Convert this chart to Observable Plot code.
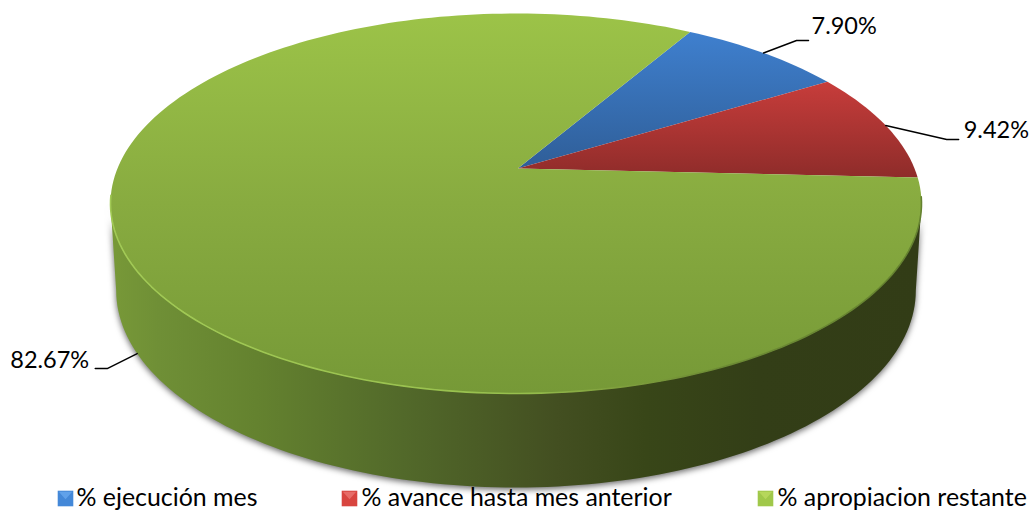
<!DOCTYPE html>
<html><head><meta charset="utf-8">
<style>html,body{margin:0;padding:0;background:#fff;overflow:hidden}svg{display:block}</style>
<script src="https://cdn.jsdelivr.net/npm/d3@7"></script>
<script src="https://cdn.jsdelivr.net/npm/@observablehq/plot@0.6"></script>
</head><body><div id="chart"></div>
<script>
const categories = ["% ejecución mes", "% avance hasta mes anterior", "% apropiacion restante"];
const values = [7.90, 9.42, 82.67];
const titleParts = ["programa (", ")"];

// Layout / styling (separate from data)
const FONT = "Lato, Carlito, Calibri, sans-serif";
const startAngle = 30.4;
const apexShift = -0.184, apexDx = 0.0044;
const bottomRim = {cy: 0.458, rx: 0.986, ry: 1.037};
const topFills = ["url(#gBlue)", "url(#gRed)", "url(#gGreen)"];
const iconFills = ["url(#iBlue)", "url(#iRed)", "url(#iGreen)"];
const iconHi = ["#6aaaf0", "#ec7a75", "#bddc62"];
const legendX = [65, 349, 765];
const legendTextX = [76, 361, 777];
const leaderOffsets = [[33,-12.5,45,-12.5],[61,14,73,14],[-30,15,-42,15]];
const labelSide = ["start","start","end"];
const labelGap = [3,5,-6];
const labelDy = [-14,-9,-8];
const useBottom = [false,false,true];

const total = d3.sum(values);
const rad = d => d * Math.PI / 180;
// perspective map: pie-angle on the rim (or inside) onto the unit ellipse
function project(deg, r = 1) {
  const u = r * Math.sin(rad(deg)), v = -r * Math.cos(rad(deg)), a = apexShift;
  const den = 1 + a * v, s = Math.sqrt(1 - a * a);
  const X = u * s / den, Y = (v + a) / den;
  return {X: X + apexDx * (1 - X * X - Y * Y), Y};
}
let acc = startAngle;
const slices = values.map((v, i) => {
  const a0 = acc, a1 = acc + v / total * 360;
  acc = a1;
  return {category: categories[i], value: v, a0, a1, mid: (a0 + a1) / 2};
});
function slicePath(s) {
  const n = Math.ceil((s.a1 - s.a0) / 1.5);
  const pts = [project(0, 0)];
  for (let k = 0; k <= n; k++) pts.push(project(s.a0 + (s.a1 - s.a0) * k / n));
  pts.push(project(0, 0));
  return pts;
}
const rimHalf = d3.range(-2, 184, 1.5).map(t => ({X: Math.cos(rad(t)), Y: Math.sin(rad(t))}));
const wall = [
  ...d3.range(0, 181, 1.5).map(t => ({X: bottomRim.rx * Math.cos(rad(t)), Y: bottomRim.cy + bottomRim.ry * Math.sin(rad(t))})),
  {X: -1, Y: 0},
  ...d3.range(180, -1, -1.5).map(t => ({X: Math.cos(rad(t)), Y: Math.sin(rad(t))})),
  {X: 1, Y: 0}
];
const PX = 405.5, PY = 190;
const leaders = slices.map((s, i) => {
  const p = project(s.mid);
  const A = useBottom[i] ? {X: p.X * bottomRim.rx, Y: bottomRim.cy + p.Y * bottomRim.ry} : p;
  const o = leaderOffsets[i];
  return [A, {X: A.X + o[0] / PX, Y: A.Y + o[1] / PY}, {X: A.X + o[2] / PX, Y: A.Y + o[3] / PY}];
});

const grad = (id, units, stops) => `<linearGradient id="${id}" gradientUnits="userSpaceOnUse" ${units}>` +
  stops.map(([o, c]) => `<stop offset="${o}" stop-color="${c}"/>`).join("") + `</linearGradient>`;
const defs = () => {
  const d = document.createElementNS("http://www.w3.org/2000/svg", "defs");
  d.innerHTML =
    grad("gGreen", 'x1="0" x2="0" y1="13" y2="393"', [[0,"#9cc348"],[0.5,"#88ab40"],[1,"#769937"]]) +
    grad("gBlue", 'x1="0" x2="0" y1="30" y2="168"', [[0,"#3f80cf"],[1,"#2f5e98"]]) +
    grad("gRed", 'x1="0" x2="0" y1="80" y2="176"', [[0,"#c83d3b"],[1,"#8f2c2a"]]) +
    grad("gWall", 'x1="110" x2="921" y1="0" y2="0"', [[0,"#789938"],[0.06,"#6f8f36"],[0.18,"#64822f"],[0.36,"#52692a"],[0.55,"#434f21"],[0.66,"#384618"],[0.8,"#333e17"],[1,"#323c16"]]) +
    grad("gRim", 'x1="110" x2="921" y1="0" y2="0"', [[0,"#a2ca56"],[0.5,"#98c04e"],[0.62,"#80a03e"],[0.75,"#6c8a34"],[1,"#64812f"]]) +
    grad("iBlue", 'x1="0" x2="0" y1="490" y2="506"', [[0,"#4488d8"],[1,"#1f5090"]]) +
    grad("iRed", 'x1="0" x2="0" y1="490" y2="506"', [[0,"#d8453f"],[1,"#822522"]]) +
    grad("iGreen", 'x1="0" x2="0" y1="490" y2="506"', [[0,"#a0c84a"],[1,"#5f7e28"]]);
  return d;
};
const downTriangle = {draw(ctx, size) {
  const h = Math.sqrt(size);
  ctx.moveTo(-h, -h * 0.55); ctx.lineTo(h, -h * 0.55); ctx.lineTo(0, h * 0.55); ctx.closePath();
}};

const marks = [
  defs,
  Plot.line(wall, {x: "X", y: "Y", fill: "url(#gWall)", stroke: "none", imageFilter: "drop-shadow(0px 2px 3px rgba(0,0,0,0.6))"}),
  ...slices.map((s, i) => Plot.line(slicePath(s), {x: "X", y: "Y", fill: topFills[i], stroke: "none"})),
  Plot.line(rimHalf, {x: "X", y: "Y", stroke: "url(#gRim)", strokeWidth: 1.6, imageFilter: "blur(0.7px)"}),
  ...leaders.map(l => Plot.line(l, {x: "X", y: "Y", stroke: "#000", strokeWidth: 1.4})),
  ...slices.map((s, i) => Plot.text([leaders[i][2]], {x: "X", y: "Y", text: () => s.value.toFixed(2) + "%", textAnchor: labelSide[i], dx: labelGap[i], dy: labelDy[i], fontFamily: FONT, fontSize: 23.5, fill: "#000"})),
  Plot.text([titleParts[0]], {frameAnchor: "top-left", dx: 235, dy: -9, lineAnchor: "bottom", textAnchor: "start", fontFamily: FONT, fontWeight: 700, fontSize: 39, fill: "#000"}),
  Plot.text([titleParts[1]], {frameAnchor: "top-left", dx: 758, dy: -9, lineAnchor: "bottom", textAnchor: "start", fontFamily: FONT, fontWeight: 700, fontSize: 39, fill: "#000"}),
  ...categories.map((c, i) => Plot.dot([c], {frameAnchor: "top-left", dx: legendX[i], dy: 498, symbol: "square", r: 8.8, fill: iconFills[i], stroke: "none"})),
  ...categories.map((c, i) => Plot.dot([c], {frameAnchor: "top-left", dx: legendX[i], dy: 495, symbol: downTriangle, r: 3.8, fill: iconHi[i], stroke: "none", fillOpacity: 0.75})),
  ...categories.map((c, i) => Plot.text([c], {frameAnchor: "top-left", dx: legendTextX[i], dy: 505, lineAnchor: "bottom", textAnchor: "start", fontFamily: FONT, fontSize: 24.9, fill: "#000"}))
];

const chart = Plot.plot({
  width: 1031, height: 510,
  marginTop: 0, marginRight: 0, marginBottom: 0, marginLeft: 0,
  style: {background: "#fff"},
  x: {domain: [-1, 1], range: [110, 921], axis: null},
  y: {domain: [-1, 1], range: [13, 393], axis: null},
  marks
});
document.getElementById("chart").append(chart);
</script></body></html>
